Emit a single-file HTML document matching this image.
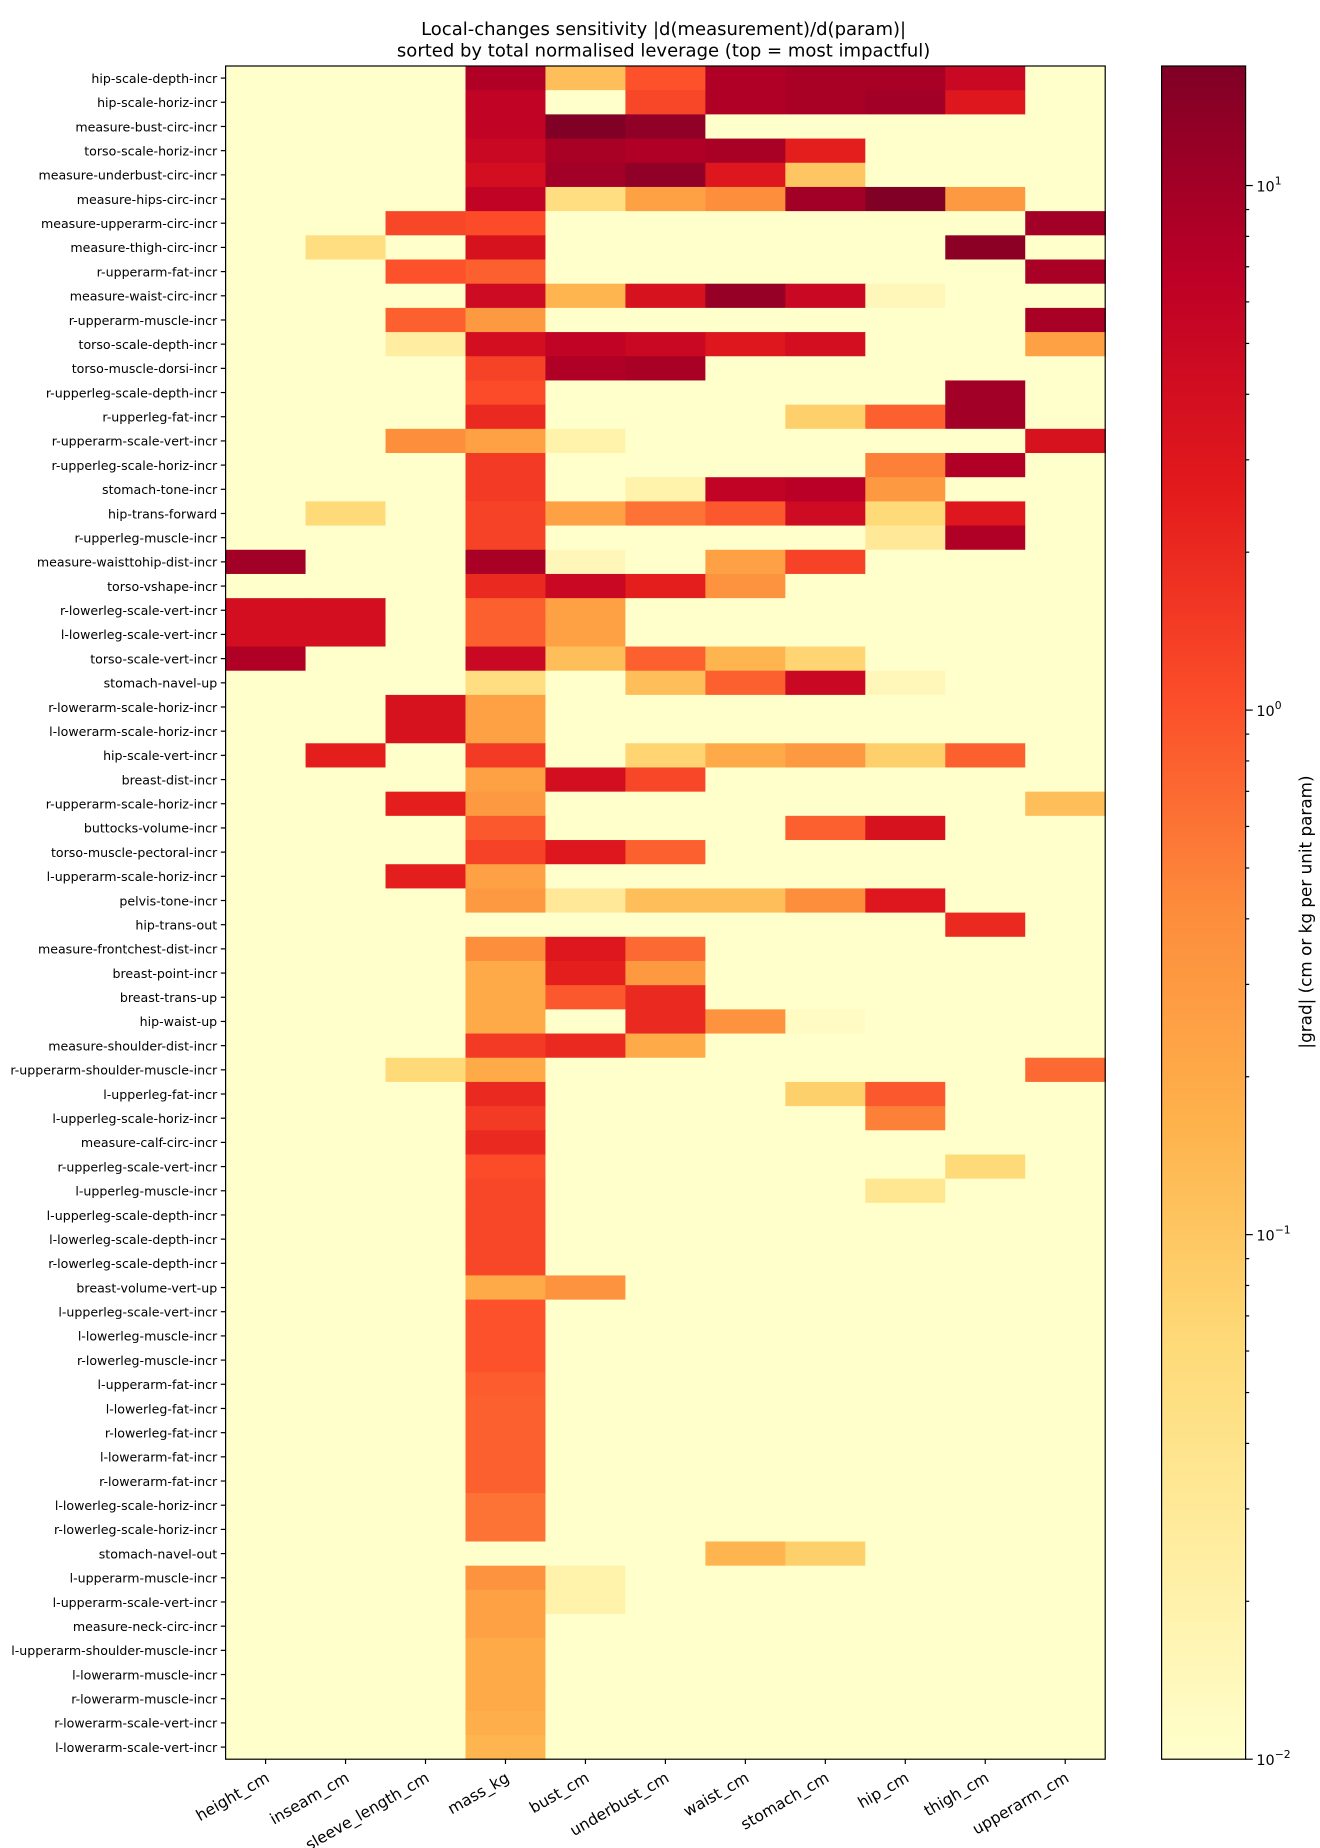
<!DOCTYPE html>
<html><head><meta charset="utf-8">
<style>
html,body{margin:0;padding:0;background:#fff;}
svg{display:block;font-family:"DejaVu Sans","Liberation Sans",sans-serif;}
</style></head>
<body>
<svg id="chart" width="1320" height="1848" viewBox="0 0 1100 1540" xmlns="http://www.w3.org/2000/svg">
<text x="553" y="29" font-size="15" text-anchor="middle">Local-changes sensitivity  |d(measurement)/d(param)|</text>
<text x="553" y="47" font-size="15" text-anchor="middle">sorted by total normalised leverage (top = most impactful)</text>
<g id="cells"></g>
<g id="yticks"></g>
<g id="xticks"></g>
<rect x="188" y="55" width="733" height="1411" fill="none" stroke="#000" stroke-width="1"/>
<defs>
<linearGradient id="cbgrad" x1="0" y1="1" x2="0" y2="0">
<stop offset="0" stop-color="#ffffcc"/><stop offset="0.125" stop-color="#ffeda0"/><stop offset="0.25" stop-color="#fed976"/><stop offset="0.375" stop-color="#feb24c"/><stop offset="0.5" stop-color="#fd8d3c"/><stop offset="0.625" stop-color="#fc4e2a"/><stop offset="0.75" stop-color="#e31a1c"/><stop offset="0.875" stop-color="#bd0026"/><stop offset="1" stop-color="#800026"/>
</linearGradient>
</defs>
<rect x="968" y="55" width="70" height="1411" fill="url(#cbgrad)" stroke="#000" stroke-width="1"/>
<g id="cbticks"></g>
<text transform="translate(1093,760) rotate(-90)" font-size="14" text-anchor="middle">|grad|  (cm or kg per unit param)</text>
</svg>
<script>
const columns = ["height_cm","inseam_cm","sleeve_length_cm","mass_kg","bust_cm","underbust_cm","waist_cm","stomach_cm","hip_cm","thigh_cm","upperarm_cm"];
const rows = ["hip-scale-depth-incr","hip-scale-horiz-incr","measure-bust-circ-incr","torso-scale-horiz-incr","measure-underbust-circ-incr","measure-hips-circ-incr","measure-upperarm-circ-incr","measure-thigh-circ-incr","r-upperarm-fat-incr","measure-waist-circ-incr","r-upperarm-muscle-incr","torso-scale-depth-incr","torso-muscle-dorsi-incr","r-upperleg-scale-depth-incr","r-upperleg-fat-incr","r-upperarm-scale-vert-incr","r-upperleg-scale-horiz-incr","stomach-tone-incr","hip-trans-forward","r-upperleg-muscle-incr","measure-waisttohip-dist-incr","torso-vshape-incr","r-lowerleg-scale-vert-incr","l-lowerleg-scale-vert-incr","torso-scale-vert-incr","stomach-navel-up","r-lowerarm-scale-horiz-incr","l-lowerarm-scale-horiz-incr","hip-scale-vert-incr","breast-dist-incr","r-upperarm-scale-horiz-incr","buttocks-volume-incr","torso-muscle-pectoral-incr","l-upperarm-scale-horiz-incr","pelvis-tone-incr","hip-trans-out","measure-frontchest-dist-incr","breast-point-incr","breast-trans-up","hip-waist-up","measure-shoulder-dist-incr","r-upperarm-shoulder-muscle-incr","l-upperleg-fat-incr","l-upperleg-scale-horiz-incr","measure-calf-circ-incr","r-upperleg-scale-vert-incr","l-upperleg-muscle-incr","l-upperleg-scale-depth-incr","l-lowerleg-scale-depth-incr","r-lowerleg-scale-depth-incr","breast-volume-vert-up","l-upperleg-scale-vert-incr","l-lowerleg-muscle-incr","r-lowerleg-muscle-incr","l-upperarm-fat-incr","l-lowerleg-fat-incr","r-lowerleg-fat-incr","l-lowerarm-fat-incr","r-lowerarm-fat-incr","l-lowerleg-scale-horiz-incr","r-lowerleg-scale-horiz-incr","stomach-navel-out","l-upperarm-muscle-incr","l-upperarm-scale-vert-incr","measure-neck-circ-incr","l-upperarm-shoulder-muscle-incr","l-lowerarm-muscle-incr","r-lowerarm-muscle-incr","r-lowerarm-scale-vert-incr","l-lowerarm-scale-vert-incr"];
const values = [
[0,0,0,8,0.12,1.0,8,9,9,5,0],
[0,0,0,6,0.01,1.2,8,9,10,3,0],
[0,0,0,6,17,13,0,0,0,0,0],
[0,0,0,5,9,8,9,2.5,0,0,0],
[0,0,0,4,10,13,3,0.1,0,0,0],
[0,0,0,6,0.05,0.25,0.4,10,17,0.3,0],
[0,0,1.2,1.1,0,0,0,0,0,0,10],
[0,0.05,0,3.5,0,0,0,0,0,14,0],
[0,0,1.0,0.8,0,0,0,0,0,0,9],
[0,0,0,4.5,0.15,3.5,12,5,0.015,0,0],
[0,0,0.8,0.3,0,0,0,0,0,0,9],
[0,0,0.025,4,6,5,3,4,0,0,0.25],
[0,0,0,1.3,8,9,0,0,0,0,0],
[0,0,0,1.1,0,0,0,0,0,10,0],
[0,0,0,2,0,0,0,0.08,0.8,10,0],
[0,0,0.4,0.25,0.02,0,0,0,0,0,3.5],
[0,0,0,1.5,0,0,0,0,0.5,8,0],
[0,0,0,1.5,0,0.02,6,7,0.3,0,0],
[0,0.06,0,1.3,0.25,0.6,0.9,4.5,0.06,3,0],
[0,0,0,1.3,0,0,0,0,0.03,8,0],
[10,0,0,9,0.015,0,0.25,1.3,0,0,0],
[0,0,0,2,5,2.5,0.35,0,0,0,0],
[4,4,0,0.8,0.25,0,0,0,0,0,0],
[4,4,0,0.8,0.25,0,0,0,0,0,0],
[8,0,0,5,0.12,0.8,0.15,0.07,0,0,0],
[0,0,0,0.05,0,0.12,0.8,5,0.015,0,0],
[0,0,3.5,0.25,0,0,0,0,0,0,0],
[0,0,3.5,0.25,0,0,0,0,0,0,0],
[0,2.5,0,1.5,0,0.07,0.2,0.3,0.08,0.8,0],
[0,0,0,0.25,4,1.2,0,0,0,0,0],
[0,0,2.5,0.3,0,0,0,0,0,0,0.12],
[0,0,0,0.9,0,0,0,0.8,3.5,0,0],
[0,0,0,1.3,3,0.8,0,0,0,0,0],
[0,0,2.5,0.25,0,0,0,0,0,0,0],
[0,0,0,0.3,0.03,0.12,0.12,0.4,3,0,0],
[0,0,0,0,0,0,0,0,0,2,0],
[0,0,0,0.4,3,0.7,0,0,0,0,0],
[0,0,0,0.2,2.5,0.3,0,0,0,0,0],
[0,0,0,0.2,0.9,2,0,0,0,0,0],
[0,0,0,0.2,0.01,2,0.35,0.012,0,0,0],
[0,0,0,1.5,2,0.2,0,0,0,0,0],
[0,0,0.06,0.2,0,0,0,0,0,0,0.7],
[0,0,0,2,0,0,0,0.08,0.9,0,0],
[0,0,0,1.5,0,0,0,0,0.5,0,0],
[0,0,0,2,0,0,0,0,0,0,0],
[0,0,0,1.1,0,0,0,0,0,0.06,0],
[0,0,0,1.2,0,0,0,0,0.035,0,0],
[0,0,0,1.2,0,0,0,0,0,0,0],
[0,0,0,1.2,0,0,0,0,0,0,0],
[0,0,0,1.2,0,0,0,0,0,0,0],
[0,0,0,0.2,0.35,0,0,0,0,0,0],
[0,0,0,1.0,0,0,0,0,0,0,0],
[0,0,0,1.0,0,0,0,0,0,0,0],
[0,0,0,1.0,0,0,0,0,0,0,0],
[0,0,0,0.85,0,0,0,0,0,0,0],
[0,0,0,0.8,0,0,0,0,0,0,0],
[0,0,0,0.8,0,0,0,0,0,0,0],
[0,0,0,0.8,0,0,0,0,0,0,0],
[0,0,0,0.8,0,0,0,0,0,0,0],
[0,0,0,0.6,0,0,0,0,0,0,0],
[0,0,0,0.6,0,0,0,0,0,0,0],
[0,0,0,0,0,0,0.15,0.08,0,0,0],
[0,0,0,0.35,0.02,0,0,0,0,0,0],
[0,0,0,0.25,0.02,0,0,0,0,0,0],
[0,0,0,0.25,0,0,0,0,0,0,0],
[0,0,0,0.2,0,0,0,0,0,0,0],
[0,0,0,0.2,0,0,0,0,0,0,0],
[0,0,0,0.2,0,0,0,0,0,0,0],
[0,0,0,0.18,0,0,0,0,0,0,0],
[0,0,0,0.15,0,0,0,0,0,0,0]
];
const cbTickValues = [10, 1, 0.1, 0.01];
const cbTickLabels = ["1", "0", "\u22121", "\u22122"];

const NS = "http://www.w3.org/2000/svg";
const X0 = 188, X1 = 921, Y0 = 55, Y1 = 1466;
const VMIN = 0.01, VMAX = 16.9;
const cw = (X1 - X0) / columns.length, rh = (Y1 - Y0) / rows.length;
const xPos = i => X0 + i * cw;
const yPos = j => Y0 + j * rh;
const cbY = v => Y1 - (Math.log10(v) - Math.log10(VMIN)) / (Math.log10(VMAX) - Math.log10(VMIN)) * (Y1 - Y0);
const stops = ["#ffffcc","#ffeda0","#fed976","#feb24c","#fd8d3c","#fc4e2a","#e31a1c","#bd0026","#800026"].map(h => [1,3,5].map(k => parseInt(h.substr(k,2),16)));
function colour(v) {
  v = Math.max(VMIN, Math.min(VMAX, v || VMIN));
  let t = (Math.log10(v) - Math.log10(VMIN)) / (Math.log10(VMAX) - Math.log10(VMIN));
  let p = t * (stops.length - 1), i = Math.min(stops.length - 2, Math.floor(p)), f = p - i;
  const c = stops[i].map((a, k) => Math.round(a + (stops[i+1][k] - a) * f));
  return `rgb(${c[0]},${c[1]},${c[2]})`;
}
function mk(tag, attrs, parent) {
  const el = document.createElementNS(NS, tag);
  for (const k in attrs) el.setAttribute(k, attrs[k]);
  parent.appendChild(el); return el;
}
const gc = document.getElementById("cells");
values.forEach((row, j) => row.forEach((v, i) => {
  const r = mk("rect", {x: xPos(i), y: yPos(j), width: cw + 0.5, height: rh + 0.5, fill: colour(v)}, gc);
  
  
}));
const gy = document.getElementById("yticks");
rows.forEach((name, j) => {
  const yc = yPos(j) + rh / 2;
  const l = mk("line", {x1: X0 - 4, x2: X0, y1: yc, y2: yc, stroke: "#000"}, gy);
  
  
  const t = mk("text", {x: X0 - 7, y: yc + 4, "font-size": "10.5", "text-anchor": "end"}, gy);
  
  
  t.textContent = name;
});
const gx = document.getElementById("xticks");
columns.forEach((name, i) => {
  const xc = xPos(i) + cw / 2;
  const l = mk("line", {x1: xc, x2: xc, y1: Y1, y2: Y1 + 4, stroke: "#000"}, gx);
  
  
  const t = mk("text", {transform: `translate(${xc + 4},${Y1 + 18}) rotate(-30)`, "font-size": "13", "text-anchor": "end"}, gx);
  
  
  t.textContent = name;
});
const gcb = document.getElementById("cbticks");
for (let d = -2; d <= 1; d++) for (let m = 2; m <= 9; m++) {
  const v = m * Math.pow(10, d);
  if (v > VMAX) continue;
  const y = cbY(v);
  const l = mk("line", {x1: 1038, x2: 1041, y1: y, y2: y, stroke: "#000"}, gcb);
  
  
}
cbTickValues.forEach((v, k) => {
  const y = cbY(v);
  const l = mk("line", {x1: 1038, x2: 1044, y1: y, y2: y, stroke: "#000"}, gcb);
  
  
  const t = mk("text", {x: 1047, y: y + 5, "font-size": "12"}, gcb);
  
  
  t.textContent = "10";
  const s = mk("tspan", {dy: "-6", "font-size": "9"}, t);
  s.textContent = cbTickLabels[k];
});
</script>
</body></html>
